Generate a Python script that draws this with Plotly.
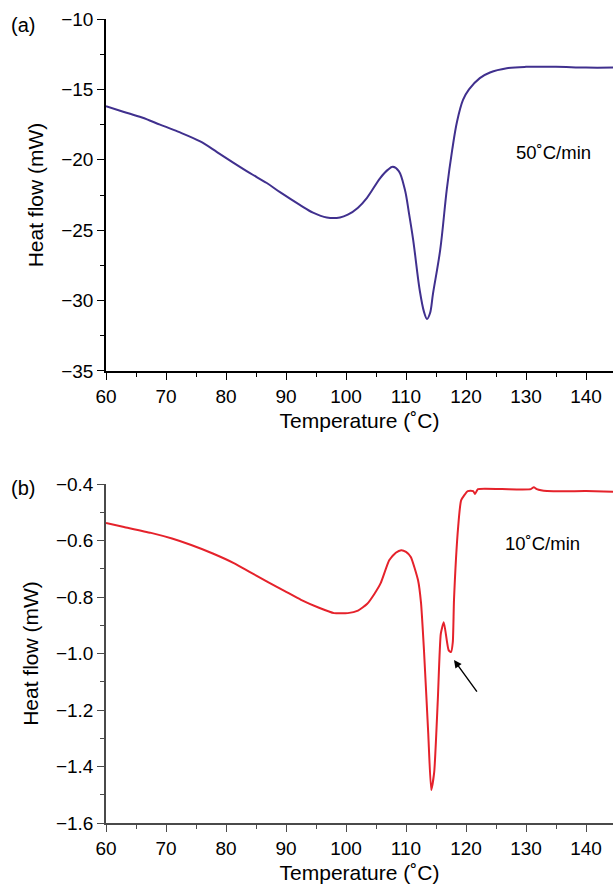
import plotly.graph_objects as go

# Panel (a): 50 °C/min
temp_a = [60, 63, 66, 69, 72, 75.7, 78.5, 81.2, 84, 86.8, 89, 92.3, 94.5, 96.8, 99, 100.3, 102,
          103.5, 105.7, 107, 107.8, 108.8, 109.8, 110.5, 111.2, 112.3, 113, 113.5, 114, 114.5,
          115.7, 116.8, 117.7, 118.5, 119.5, 120.5, 122.3, 124, 126.8, 130, 135, 140, 144.5]
heat_a = [-16.2, -16.6, -17.0, -17.5, -18.0, -18.7, -19.45, -20.2, -20.95, -21.65, -22.3, -23.2,
          -23.75, -24.1, -24.1, -23.9, -23.4, -22.7, -21.3, -20.7, -20.5, -20.8, -22.1, -23.8,
          -25.7, -29.3, -30.8, -31.3, -30.9, -29.5, -26.4, -22.1, -19.3, -17.3, -15.75, -15.0,
          -14.2, -13.8, -13.5, -13.4, -13.4, -13.45, -13.45]

# Panel (b): 10 °C/min
temp_b = [60, 63, 67.5, 71, 74.2, 77.8, 81.3, 84, 87, 89.8, 92.5, 95.5, 98, 100.3, 102, 103.5,
          104.7, 105.8, 107.2, 108.3, 109.2, 110, 110.8, 112, 112.5, 113, 113.7, 114.2, 114.7,
          115.3, 115.8, 116.3, 117.1, 117.5, 117.8, 118, 118.7, 119.2, 120.3, 121.2, 121.5, 122,
          126, 130.8, 131.3, 131.8, 133.5, 140, 144.5]
heat_b = [-0.538, -0.552, -0.573, -0.593, -0.616, -0.646, -0.68, -0.712, -0.747, -0.779, -0.81,
          -0.838, -0.857, -0.857, -0.848, -0.825, -0.79, -0.75, -0.67, -0.643, -0.634, -0.64,
          -0.658, -0.74, -0.82, -0.99, -1.28, -1.483, -1.42, -1.165, -0.93, -0.889, -0.988,
          -0.995, -0.96, -0.81, -0.55, -0.457, -0.425, -0.425, -0.435, -0.418, -0.418, -0.418,
          -0.411, -0.418, -0.425, -0.425, -0.427]

x_ticks = [60, 70, 80, 90, 100, 110, 120, 130, 140]
y_ticks_a = [-35, -30, -25, -20, -15, -10]
y_ticks_b = [-1.6, -1.4, -1.2, -1.0, -0.8, -0.6, -0.4]

FONT = "Liberation Sans, Arial, sans-serif"
BLUE = "#40308E"
RED = "#E5222B"

fig = go.Figure()
fig.add_trace(go.Scatter(x=temp_a, y=heat_a, mode="lines", xaxis="x", yaxis="y",
                         line=dict(color=BLUE, width=2, shape="spline", smoothing=1.0),
                         showlegend=False))
fig.add_trace(go.Scatter(x=temp_b, y=heat_b, mode="lines", xaxis="x2", yaxis="y2",
                         line=dict(color=RED, width=2, shape="spline", smoothing=0.5),
                         showlegend=False))

def xax(anchor, color):
    return dict(anchor=anchor, range=[60, 144.5], tickvals=x_ticks, showgrid=False,
                zeroline=False, showline=True, linecolor=color, linewidth=1.5,
                ticks="outside", ticklen=7, tickwidth=1.2, tickcolor=color,
                minor=dict(dtick=5, tick0=60, ticks="outside", ticklen=4, tickwidth=1.2, tickcolor=color),
                tickfont=dict(size=19, color="black", family=FONT),
                title=dict(text="Temperature (˚C)", font=dict(size=21, color="black", family=FONT),
                           standoff=8))

def yax(anchor, color, rng, ticks, minor_dt, fmt, domain):
    return dict(anchor=anchor, domain=domain, range=rng, tickvals=ticks, showgrid=False,
                zeroline=False, showline=True, linecolor=color, linewidth=1.5,
                ticks="outside", ticklen=7, tickwidth=1.2, tickcolor=color, tickformat=fmt,
                minor=dict(dtick=minor_dt, tick0=rng[0], ticks="outside", ticklen=4, tickwidth=1.2,
                           tickcolor=color),
                tickfont=dict(size=19, color="black", family=FONT),
                title=dict(text="Heat flow (mW)", font=dict(size=21, color="black", family=FONT),
                           standoff=12))

H_PLOT = 885 - 19 - 62
W_PLOT = 613 - 106
def px_to_paper(px, py):
    return (px - 106) / W_PLOT, (885 - 62 - py) / H_PLOT

ax_, ay_ = px_to_paper(9, 25)
bx_, by_ = px_to_paper(9, 488)

fig.update_layout(
    width=613, height=885,
    margin=dict(l=106, r=0, t=19, b=62),
    plot_bgcolor="white", paper_bgcolor="white",
    font=dict(family=FONT, color="black"),
    xaxis=xax("y", "black"),
    yaxis=yax("x", "black", [-35, -10], y_ticks_a, 2.5, "d", [0.5622, 1.0]),
    xaxis2=xax("y2", "#4a4a4a"),
    yaxis2=yax("x2", "#4a4a4a", [-1.6, -0.4], y_ticks_b, 0.1, ".1f", [0.0, 0.4216]),
    annotations=[
        dict(text="(a)", x=ax_, y=ay_, xref="paper", yref="paper", showarrow=False,
             font=dict(size=20, family=FONT), xanchor="left", yanchor="middle"),
        dict(text="(b)", x=bx_, y=by_, xref="paper", yref="paper", showarrow=False,
             font=dict(size=20, family=FONT), xanchor="left", yanchor="middle"),
        dict(text="50˚C/min", x=128, y=-19.5, xref="x", yref="y", showarrow=False,
             font=dict(size=18.5, family=FONT), xanchor="left", yanchor="middle"),
        dict(text="10˚C/min", x=126.1, y=-0.61, xref="x2", yref="y2", showarrow=False,
             font=dict(size=18.5, family=FONT), xanchor="left", yanchor="middle"),
        dict(x=118.0, y=-1.023, ax=122.0, ay=-1.14, xref="x2", yref="y2", axref="x2", ayref="y2",
             showarrow=True, arrowhead=2, arrowsize=1.1, arrowwidth=1.4, arrowcolor="black", text=""),
    ],
)

fig.write_html("out.html")
